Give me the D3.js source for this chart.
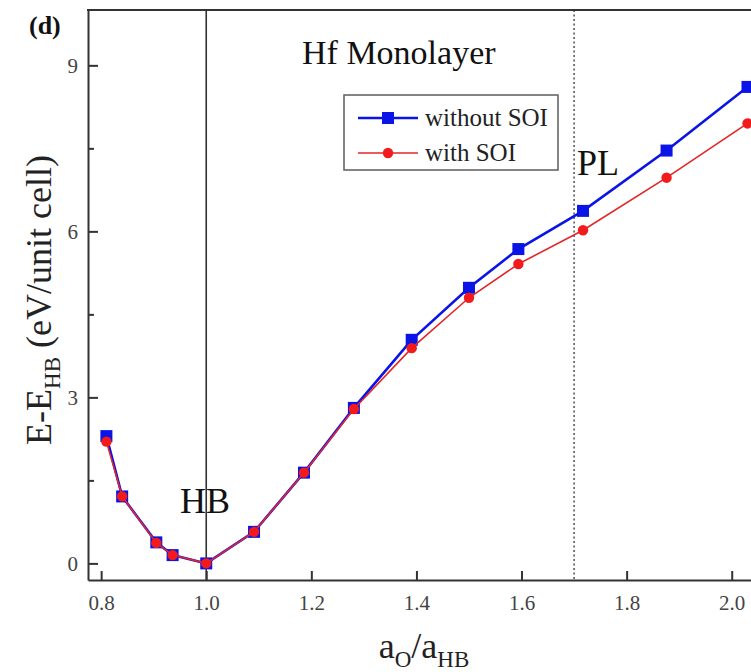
<!DOCTYPE html>
<html>
<head>
<meta charset="utf-8">
<script src="https://cdn.jsdelivr.net/npm/d3@7"></script>
<style>
  body { margin: 0; background: #fff; }
  svg { display: block; font-family: "Liberation Serif", "DejaVu Serif", serif; }
</style>
</head>
<body>
<svg id="chart" width="751" height="672"></svg>
<script>
// Data
const ratio = [0.81, 0.84, 0.905, 0.936, 1.0, 1.091, 1.186, 1.281, 1.391, 1.50, 1.594, 1.717, 1.876, 2.03];
const withoutSOI = [2.30, 1.21, 0.38, 0.15, 0.0, 0.57, 1.64, 2.81, 4.04, 4.98, 5.68, 6.37, 7.46, 8.61];
const withSOI = [2.20, 1.21, 0.37, 0.15, 0.0, 0.57, 1.64, 2.79, 3.89, 4.80, 5.41, 6.02, 6.97, 7.95];
const xTicks = [0.8, 1.0, 1.2, 1.4, 1.6, 1.8, 2.0];
const yTicks = [0, 3, 6, 9];
const yMinorTicks = [1.5, 4.5, 7.5];
const hbRatio = 1.0;
const plRatio = 1.7;
const seriesNames = ['without SOI', 'with SOI'];

const BLUE = '#0a14e6';
const RED = '#e4252a';
const AXIS = '#333';
const SERIF = 'Liberation Serif, DejaVu Serif, serif';

const svg = d3.select('#chart');

const x = d3.scaleLinear().domain([0.775, 2.05]).range([88, 758]);
const y = d3.scaleLinear().domain([-0.3, 10]).range([580, 10]);

// Reference lines
svg.append('line')
  .attr('x1', x(hbRatio)).attr('x2', x(hbRatio))
  .attr('y1', y.range()[1]).attr('y2', y.range()[0])
  .attr('stroke', AXIS).attr('stroke-width', 1.6);

svg.append('line')
  .attr('x1', x(plRatio)).attr('x2', x(plRatio))
  .attr('y1', y.range()[1]).attr('y2', y.range()[0])
  .attr('stroke', '#444').attr('stroke-width', 1.4)
  .attr('stroke-dasharray', '2,2.5');

// Axes (ticks point inward)
svg.append('g')
  .attr('transform', `translate(0,${y.range()[0]})`)
  .call(d3.axisBottom(x).tickValues(xTicks).tickFormat(d3.format('.1f'))
    .tickSizeInner(-9).tickSizeOuter(0).tickPadding(15));

svg.append('g')
  .attr('transform', `translate(${x.range()[0]},0)`)
  .call(d3.axisLeft(y).tickValues(yTicks).tickFormat(d3.format('d'))
    .tickSizeInner(-10).tickSizeOuter(0).tickPadding(10));

svg.append('g')
  .attr('transform', `translate(${x.range()[0]},0)`)
  .call(d3.axisLeft(y).tickValues(yMinorTicks).tickFormat('')
    .tickSizeInner(-6).tickSizeOuter(0))
  .select('.domain').remove();

svg.selectAll('g').attr('font-family', SERIF);
svg.selectAll('.domain, .tick line').attr('stroke', AXIS).attr('stroke-width', 2);
svg.selectAll('.tick text')
  .attr('font-family', SERIF)
  .attr('font-size', 21)
  .attr('fill', '#444');

// Top frame line
svg.append('line')
  .attr('x1', x.range()[0] - 1).attr('x2', 751)
  .attr('y1', y.range()[1]).attr('y2', y.range()[1])
  .attr('stroke', AXIS).attr('stroke-width', 2);

// Series
const pts = (vals) => ratio.map((r, i) => ({ r, v: vals[i] }));
const line = d3.line().x(d => x(d.r)).y(d => y(d.v));

svg.append('path')
  .datum(pts(withoutSOI))
  .attr('d', line)
  .attr('fill', 'none')
  .attr('stroke', BLUE)
  .attr('stroke-width', 2.6);

svg.selectAll('.sq')
  .data(pts(withoutSOI))
  .enter().append('rect')
  .attr('class', 'sq')
  .attr('x', d => x(d.r) - 6)
  .attr('y', d => y(d.v) - 6)
  .attr('width', 12).attr('height', 12)
  .attr('fill', BLUE);

svg.append('path')
  .datum(pts(withSOI))
  .attr('d', line)
  .attr('fill', 'none')
  .attr('stroke', RED)
  .attr('stroke-width', 1.6);

svg.selectAll('.dot')
  .data(pts(withSOI))
  .enter().append('circle')
  .attr('class', 'dot')
  .attr('cx', d => x(d.r))
  .attr('cy', d => y(d.v))
  .attr('r', 5.2)
  .attr('fill', '#f21a1a');

// Legend
const legend = svg.append('g');
legend.append('rect')
  .attr('x', 344).attr('y', 95).attr('width', 214).attr('height', 75)
  .attr('fill', '#fff').attr('stroke', '#666').attr('stroke-width', 1.6);

const rows = [
  { name: seriesNames[0], color: BLUE, w: 2.6, marker: 'square', yy: 118 },
  { name: seriesNames[1], color: RED, w: 1.6, marker: 'circle', yy: 153 }
];
rows.forEach(r => {
  legend.append('line')
    .attr('x1', 358).attr('x2', 418).attr('y1', r.yy).attr('y2', r.yy)
    .attr('stroke', r.color).attr('stroke-width', r.w);
  if (r.marker === 'square') {
    legend.append('rect').attr('x', 382).attr('y', r.yy - 6).attr('width', 12).attr('height', 12).attr('fill', BLUE);
  } else {
    legend.append('circle').attr('cx', 388).attr('cy', r.yy).attr('r', 5.2).attr('fill', '#f21a1a');
  }
  legend.append('text')
    .attr('x', 425).attr('y', r.yy + 8)
    .attr('font-family', SERIF)
    .attr('font-size', 25).attr('fill', '#222')
    .text(r.name);
});

// Annotations
svg.append('text')
  .attr('x', 29).attr('y', 34)
  .attr('font-family', SERIF)
  .attr('font-size', 26).attr('font-weight', 'bold').attr('fill', '#111')
  .text('(d)');

svg.append('text')
  .attr('x', 302).attr('y', 64)
  .attr('font-family', SERIF)
  .attr('font-size', 34).attr('fill', '#111')
  .text('Hf Monolayer');

svg.append('text')
  .attr('x', 180).attr('y', 513)
  .attr('font-family', SERIF)
  .attr('font-size', 36).attr('fill', '#111')
  .text('HB');

svg.append('text')
  .attr('x', 577).attr('y', 175)
  .attr('font-family', SERIF)
  .attr('font-size', 36).attr('fill', '#111')
  .text('PL');

// Axis titles
const xt = svg.append('text')
  .attr('x', 424).attr('y', 658)
  .attr('text-anchor', 'middle')
  .attr('font-family', SERIF)
  .attr('font-size', 36).attr('fill', '#222');
xt.append('tspan').text('a');
xt.append('tspan').attr('dy', 9).attr('font-size', 23).text('O');
xt.append('tspan').attr('dy', -9).text('/a');
xt.append('tspan').attr('dy', 9).attr('font-size', 23).text('HB');

const yt = svg.append('text')
  .attr('transform', 'translate(51,300) rotate(-90)')
  .attr('text-anchor', 'middle')
  .attr('font-family', SERIF)
  .attr('font-size', 36).attr('fill', '#222');
yt.append('tspan').text('E-E');
yt.append('tspan').attr('dy', 9).attr('font-size', 23).text('HB');
yt.append('tspan').attr('dy', -9).text(' (eV/unit cell)');
</script>
</body>
</html>
